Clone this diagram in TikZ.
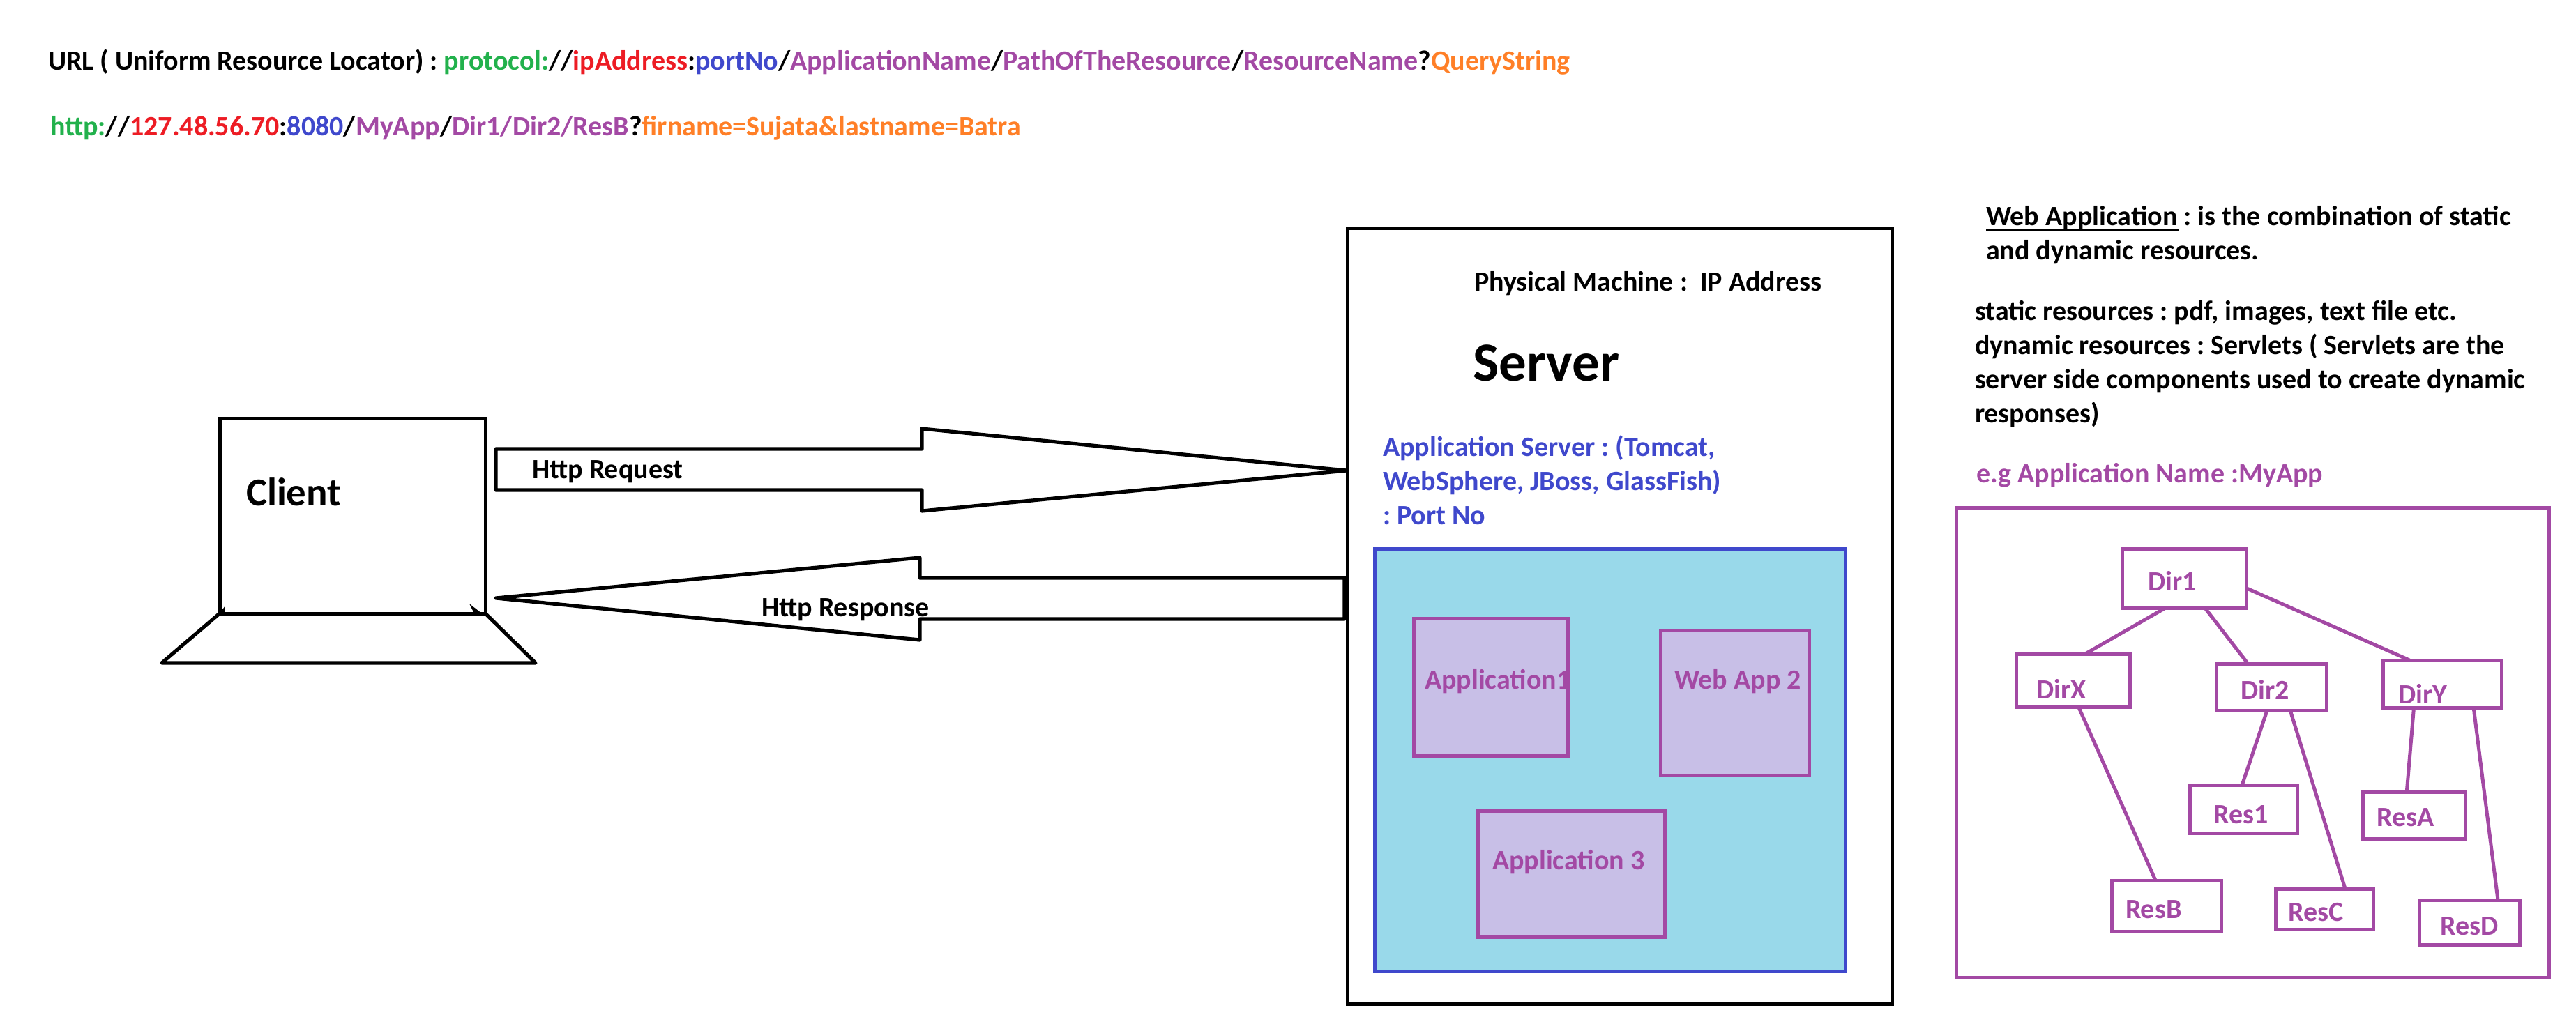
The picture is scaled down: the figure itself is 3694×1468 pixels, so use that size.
\documentclass[tikz,border=0pt]{standalone}
\usepackage{fontspec}
\setmainfont{Carlito}
\definecolor{paintgreen}{HTML}{22B14C}
\definecolor{paintred}{HTML}{ED1C24}
\definecolor{paintblue}{HTML}{3F48CC}
\definecolor{paintpurple}{HTML}{A349A4}
\definecolor{paintorange}{HTML}{FF7F27}
\definecolor{paintcyan}{HTML}{99D9EA}
\definecolor{paintlilac}{HTML}{C8BFE7}

\begin{document}
\frenchspacing
\begin{tikzpicture}[x=0.25pt, y=-0.25pt,
  boxsize/.style 2 args = {minimum width=#1*0.25pt, minimum height=#2*0.25pt},
  main/.style = {draw, rectangle, inner sep=0pt, outer sep=0pt, line width=1.25pt},
  appbox/.style = {main, draw=paintpurple, fill=paintlilac},
  treebox/.style = {main, draw=paintpurple, line width=1.25pt},
  treeline/.style = {draw=paintpurple, line width=1.25pt},
  blockarrow/.style = {draw, line width=1.3pt, line join=round},
  txt/.style = {anchor=base west, inner sep=0pt, outer sep=0pt, align=left,
    font=\fontsize{10}{12.25}\selectfont\bfseries},
  purpletxt/.style = {txt, text=paintpurple}]
\useasboundingbox (0,0) rectangle (3694,1468);

%url lines
\node[txt] (urlformat) at (69,100) {URL ( Uniform Resource Locator) : \textcolor{paintgreen}{protocol:}//\textcolor{paintred}{ipAddress}:\textcolor{paintblue}{portNo}/\textcolor{paintpurple}{ApplicationName}/\textcolor{paintpurple}{PathOfTheResource}/\textcolor{paintpurple}{ResourceName}?\textcolor{paintorange}{QueryString}};
\node[txt] (urlsample) at (72,194) {\textcolor{paintgreen}{http:}//\textcolor{paintred}{127.48.56.70}:\textcolor{paintblue}{8080}/\textcolor{paintpurple}{MyApp}/\textcolor{paintpurple}{Dir1/Dir2/ResB}?\textcolor{paintorange}{firname=Sujata\&lastname=Batra}};

%client
\node[main, boxsize={381}{280}] (monitor) at (505.5,740) {};
\coordinate (baseleft) at (232,951);
\coordinate (baseright) at (768,951);
\draw[blockarrow] (monitor.south west) -- (baseleft) -- (baseright) -- (monitor.south east);
\fill (315,880) -- (323,869) -- (322,880) -- cycle;
\fill (691,880) -- (673,866) -- (680,880) -- cycle;
\node[txt, font=\fontsize{14.2}{16}\selectfont\bfseries] (client) at (353,725) {Client};

%server
\node[main, boxsize={781}{1113}] (server) at (2322.5,883.5) {};
\node[txt] (machine) at (2114,417) {Physical Machine :\ \ IP Address};
\node[txt, font=\fontsize{19.75}{24}\selectfont\bfseries] (servername) at (2112,546) {Server};
\node[txt, anchor=north west, text=paintblue] (appserver) at (1983,625) {Application Server : (Tomcat,\\WebSphere, JBoss, GlassFish)\\: Port No};
\node[main, draw=paintblue, fill=paintcyan, boxsize={675}{606}] (container) at (2308.5,1090) {};

%apps
\node[appbox, boxsize={221}{197}] (app1) at (2137.5,985.5) {};
\node[appbox, boxsize={213}{208}] (app2) at (2487.5,1008) {};
\node[appbox, boxsize={268}{181}] (app3) at (2253.5,1253.5) {};
\node[purpletxt] (app1text) at (2043,988) {Application1};
\node[purpletxt] (app2text) at (2401,988) {Web App 2};
\node[purpletxt] (app3text) at (2140,1247) {Application 3};

%arrows
\draw[blockarrow] (711,644) -- (1322,644) -- (1322,615) -- (1931,675) -- (1322,733) -- (1322,703) -- (711,703) -- cycle;
\draw[blockarrow] (1928,829) -- (1319,829) -- (1319,800) -- (711,858) -- (1319,918) -- (1319,888) -- (1928,888) -- cycle;
\node[txt] (request) at (763,686) {Http Request};
\node[txt] (response) at (1092,884) {Http Response};

%notes
\node[txt, anchor=north west] (webapp) at (2848,295) {\rlap{\rule[-2.1pt]{69pt}{1pt}}Web Application : is the combination of static\\and dynamic resources.};
\node[txt, anchor=north west] (resources) at (2832,431) {static resources : pdf, images, text file etc.\\dynamic resources : Servlets ( Servlets are the\\server side components used to create dynamic\\responses)};
\node[purpletxt] (example) at (2834,692) {e.g Application Name :MyApp};

%tree
\node[treebox, boxsize={850}{674}] (frame) at (3230,1065) {};
\node[treebox, boxsize={178}{85}] (dir1) at (3132,829.5) {};
\node[treebox, boxsize={163}{76}] (dirx) at (2972.5,976) {};
\node[treebox, boxsize={158}{67}] (dir2) at (3257,985.5) {};
\node[treebox, boxsize={170}{68}] (diry) at (3502,981) {};
\node[treebox, boxsize={154}{69}] (res1) at (3217,1160.5) {};
\node[treebox, boxsize={147}{67}] (resa) at (3461.5,1169.5) {};
\node[treebox, boxsize={157}{73}] (resb) at (3106.5,1299.5) {};
\node[treebox, boxsize={140}{58}] (resc) at (3333,1304) {};
\node[treebox, boxsize={144}{64}] (resd) at (3541,1323) {};

\node[purpletxt] (dir1text) at (3080,847) {Dir1};
\node[purpletxt] (dirxtext) at (2920,1002) {DirX};
\node[purpletxt] (dir2text) at (3213,1003) {Dir2};
\node[purpletxt] (dirytext) at (3439,1009) {DirY};
\node[purpletxt] (res1text) at (3174,1181) {Res1};
\node[purpletxt] (resatext) at (3408,1185) {ResA};
\node[purpletxt] (resbtext) at (3048,1317) {ResB};
\node[purpletxt] (resctext) at (3281,1321) {ResC};
\node[purpletxt] (resdtext) at (3499,1341) {ResD};

\draw[treeline] (dir1.238.5) -- (dirx.65.3);
\draw[treeline] (dir1.-55.7) -- (dir2.135.4);
\draw[treeline] (dir1.-9.9) -- (diry.144.7);
\draw[treeline] (dirx.-78.8) -- (resb.113);
\draw[treeline] (dir2.-100.2) -- (res1.93.3);
\draw[treeline] (dir2.-51.1) -- (resc.44);
\draw[treeline] (diry.-140.3) -- (resa.107.4);
\draw[treeline] (diry.-37.7) -- (resd.38.7);
\end{tikzpicture}
\end{document}
